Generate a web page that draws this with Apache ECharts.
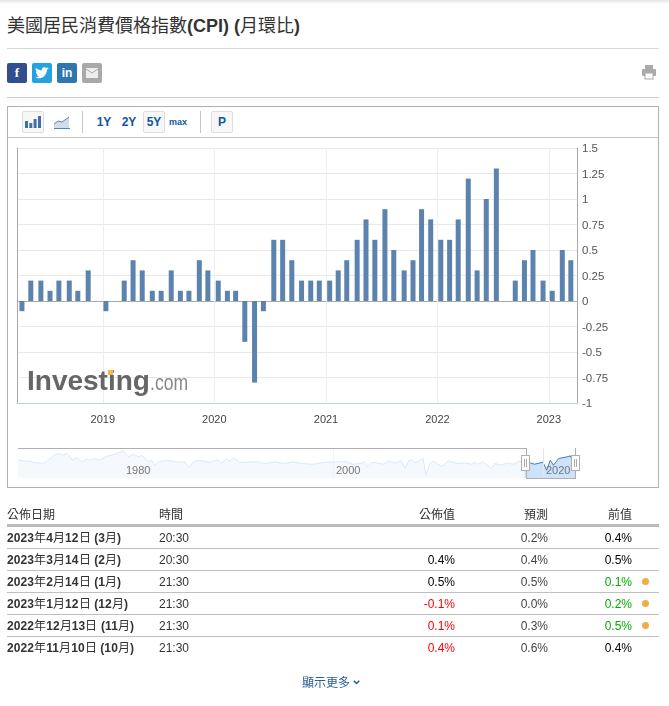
<!DOCTYPE html>
<html><head><meta charset="utf-8">
<script src="https://cdn.jsdelivr.net/npm/echarts@6/dist/echarts.min.js"></script>
<style>
@font-face{font-family:"CJKLight";src:local("Noto Sans CJK TC Regular"),local("NotoSansCJKtc-Regular"),local("Noto Sans CJK TC");font-weight:bold;unicode-range:U+2E80-9FFF,U+F900-FAFF;}
html,body{margin:0;padding:0;background:#fff;}
#root{position:relative;width:669px;height:706px;overflow:hidden;font-family:"CJKLight","Liberation Sans","Noto Sans CJK TC",Arial,sans-serif;color:#333;}
#root>*{position:absolute;}
#chart{left:0;top:0;width:669px;height:706px;}
.abs{position:absolute;box-sizing:border-box;}
.btn{position:absolute;top:111px;height:22px;width:22px;box-sizing:border-box;border:1px solid #ddd;background:#f7f7f7;border-radius:2px;}
.tb{position:absolute;top:113px;height:18px;line-height:18px;text-align:center;color:#1256a0;font-weight:bold;font-size:12px;}
.soc{position:absolute;top:63px;width:20px;height:20px;border-radius:2px;color:#fff;text-align:center;line-height:20px;font-weight:bold;font-size:13px;}
.cell{position:absolute;font-size:12px;line-height:14px;white-space:nowrap;}
.hl{position:absolute;left:7px;width:652px;height:1px;background:#c0c0c0;}
</style></head><body>
<div id="root">
<div class="abs" style="left:0;top:0;width:669px;height:4px;background:linear-gradient(#e4e4e4,#fff);"></div>
<div class="abs" style="left:7px;top:15px;font-size:18px;line-height:22px;font-weight:bold;color:#333;white-space:nowrap;" id="title"></div>
<div class="abs" style="left:7px;top:48px;width:652px;height:1px;background:#d8d8d8;"></div>
<div class="soc" style="left:7px;background:#324e8e;font-family:'Liberation Serif';">f</div>
<div class="soc" style="left:32px;background:#25a3e0;"><svg width="14" height="12" viewBox="0 0 14 12" style="margin-top:4px;display:block;margin-left:3px"><path d="M0 10c4 3 11 1 12-7l2-2-2 .5 1-1.5-2 1c-2-2-5 0-4 2.500C5 3.500 3 2.500 1 1c-1 2 0 3 1 4L1 4.700c0 2 1 3 2 3.300H2c.5 1 1.500 1.500 2.500 1.500C3 10.300 1.500 10.500 0 10z" fill="#fff"/></svg></div>
<div class="soc" style="left:57px;background:#2f77b1;font-size:12px;">in</div>
<div class="soc" style="left:82px;background:#a9a9a9;"><svg width="12" height="10" viewBox="0 0 12 10" style="display:block;margin:5px 0 0 4px"><rect width="12" height="10" fill="#eee"/><path d="M0 1l6 4 6-4" stroke="#a9a9a9" fill="none"/></svg></div>
<svg class="abs" style="left:642px;top:65px" width="14" height="15" viewBox="0 0 14 15"><rect x="3" y="0" width="8" height="4" fill="#aaa"/><rect x="0" y="4" width="14" height="7" rx="1" fill="#aaa"/><rect x="3" y="8" width="8" height="6" fill="#fff" stroke="#aaa"/></svg>
<div class="abs" style="left:7px;top:97px;width:652px;height:1px;background:#ccc;box-shadow:0 3px 5px rgba(0,0,0,.12);"></div>

<div class="abs" style="left:7px;top:106px;width:652px;height:382px;border:1px solid #b0b0b0;"></div>
<div class="abs" style="left:8px;top:137px;width:650px;height:1px;background:#c4c4c4;"></div>
<div class="btn" style="left:22px;"></div>
<svg class="abs" style="left:25px;top:115px" width="16" height="13" viewBox="0 0 16 13"><rect x="0" y="6" width="3" height="7" fill="#3f6fa5"/><rect x="4.300" y="8" width="3" height="5" fill="#3f6fa5"/><rect x="8.600" y="4" width="3" height="9" fill="#3f6fa5"/><rect x="13" y="1" width="3" height="12" fill="#3f6fa5"/></svg>
<svg class="abs" style="left:54px;top:116px" width="16" height="13" viewBox="0 0 16 13"><path d="M0 8L4 5l4 1 7-5v11H0z" fill="#cfdcea"/><path d="M0 8L4 5l4 1 7-5" stroke="#5b83ae" fill="none"/><path d="M0 12.500h16" stroke="#5b83ae"/></svg>
<div class="abs" style="left:82px;top:111px;width:1px;height:22px;background:#c4c4c4;"></div>
<div class="tb" style="left:94px;width:20px;">1Y</div>
<div class="tb" style="left:119px;width:20px;">2Y</div>
<div class="btn" style="left:143px;"></div>
<div class="tb" style="left:144px;width:20px;">5Y</div>
<div class="tb" style="left:168px;width:20px;font-size:9px;">max</div>
<div class="abs" style="left:200px;top:111px;width:1px;height:22px;background:#c4c4c4;"></div>
<div class="btn" style="left:211px;"></div>
<div class="tb" style="left:212px;width:20px;">P</div>

<div id="chart"></div>

<div class="abs" style="left:18px;top:448px;width:509px;height:1px;background:#b0b0b0;"></div>
<div class="abs" style="left:526px;top:448px;width:1px;height:30px;background:#b0b0b0;"></div>
<div class="abs" style="left:575px;top:448px;width:1px;height:30px;background:#b0b0b0;"></div>
<div class="abs" style="left:526px;top:478px;width:50px;height:1px;background:#b0b0b0;"></div>
<div class="abs" style="left:521px;top:455px;width:9px;height:16px;background:#fff;border:1px solid #b0b0b0;"><div class="abs" style="left:2px;top:3px;width:3px;height:8px;border-left:1px solid #aaa;border-right:1px solid #aaa;"></div></div>
<div class="abs" style="left:571px;top:455px;width:9px;height:16px;background:#fff;border:1px solid #b0b0b0;"><div class="abs" style="left:2px;top:3px;width:3px;height:8px;border-left:1px solid #aaa;border-right:1px solid #aaa;"></div></div>

<div id="table" class="abs" style="left:0;top:0;width:669px;height:706px;"></div>
<div class="cell" style="left:302px;top:676px;color:#2a5d96;">顯示更多</div>
<svg class="abs" style="left:353px;top:680px" width="7" height="5" viewBox="0 0 7 5"><path d="M.7 .7L3.500 3.500 6.300 .7" stroke="#2a5d96" stroke-width="1.500" fill="none"/></svg>
</div>
<script>
const chartTitle = "美國居民消費價格指數(CPI) (月環比)";
const cpiDates = ["2018-04-11","2018-05-10","2018-06-12","2018-07-12","2018-08-10","2018-09-13","2018-10-11","2018-11-14","2018-12-12",
 "2019-01-11","2019-02-13","2019-03-12","2019-04-10","2019-05-10","2019-06-12","2019-07-11","2019-08-13","2019-09-12","2019-10-10","2019-11-13","2019-12-11",
 "2020-01-14","2020-02-13","2020-03-11","2020-04-10","2020-05-12","2020-06-10","2020-07-14","2020-08-12","2020-09-11","2020-10-13","2020-11-12","2020-12-10",
 "2021-01-13","2021-02-10","2021-03-10","2021-04-13","2021-05-12","2021-06-10","2021-07-13","2021-08-11","2021-09-14","2021-10-13","2021-11-10","2021-12-10",
 "2022-01-12","2022-02-10","2022-03-10","2022-04-12","2022-05-11","2022-06-10","2022-07-13","2022-08-10","2022-09-13","2022-10-13","2022-11-10","2022-12-13",
 "2023-01-12","2023-02-14","2023-03-14"];
const cpiValues = [-0.1,0.2,0.2,0.1,0.2,0.2,0.1,0.3,0,-0.1,
 0,0.2,0.4,0.3,0.1,0.1,0.3,0.1,0.1,0.4,
 0.3,0.2,0.1,0.1,-0.4,-0.8,-0.1,0.6,0.6,0.4,
 0.2,0.2,0.2,0.2,0.3,0.4,0.6,0.8,0.6,0.9,
 0.5,0.3,0.4,0.9,0.8,0.6,0.6,0.8,1.2,0.3,
 1.0,1.3,0,0.2,0.4,0.5,0.2,0.1,0.5,0.4];
const overviewYears = [1970,1970.5,1971,1971.5,1971.9,1972.35,1972.8,1973.4,1973.9,1974.3,1974.7,1975.2,1975.6,1976.1,1976.5,1976.9,1977.2,1977.8,1978.3,1979.1,1979.6,1980,1980.5,1981,1981.5,1981.8,1982.4,1982.7,1983.05,1983.4,1984.2,1985.1,1985.9,1986.3,1986.7,1987.3,1987.6,1988.2,1988.8,1989.1,1989.4,1989.8,1990.1,1990.6,1991.1,1992.1,1992.9,1993.5,1994.5,1995.3,1996.2,1997,1998.1,1999.2,2000.3,2001.3,2001.9,2002.6,2003,2003.3,2003.7,2004.2,2004.8,2005.3,2005.9,2006.5,2006.85,2007.2,2007.5,2007.8,2008.6,2008.85,2009.2,2009.55,2010,2010.35,2011,2011.8,2012.6,2013.2,2013.5,2013.8,2014.3,2015.1,2015.4,2016.1,2016.5,2017.2,2017.8,2018.25,2018.8,2019.2,2020,2020.35,2020.7,2021,2021.5,2022.3,2022.6,2022.8,2023.1];
const overviewValues = [0.69,0.48,0.43,0.28,0.17,0.02,0.48,1.35,1.61,1.35,1.61,0.58,1,0.28,0.74,0.58,0.84,0.58,1.1,1.46,1.71,2.07,1.1,1.46,1.1,1.36,0.33,0.58,-0.18,0.33,0.58,0.33,0.33,-0.54,0.33,0.58,0.48,0.23,0.58,0.58,0.17,0.79,0.48,0.89,0.28,0.28,0.33,0.07,0.33,0.07,0.33,0.07,-0.03,0.28,0.33,0.38,-0.03,0.07,0.33,-0.44,0.28,0.17,-0.03,0.48,0.17,0.48,-0.7,0.48,0.69,0.17,0.84,-1.72,-0.03,0.48,-0.03,-0.34,0.48,0.07,0.17,-0.03,0.28,-0.03,0.33,-0.7,0.07,-0.18,0.17,-0.03,0.48,-0.03,0.17,-0.03,0.28,-0.95,0.58,-0.18,0.84,1.1,1.25,0.6,0.4];
const overviewTickLabels = [1980,2000,2020];
const selectionStartYear = 2018.25;
const tableHeaders = ["公佈日期","時間","公佈值","預測","前值"];
const releaseDates = ["2023年4月12日 (3月)","2023年3月14日 (2月)","2023年2月14日 (1月)","2023年1月12日 (12月)","2022年12月13日 (11月)","2022年11月10日 (10月)"];
const releaseTimes = ["20:30","20:30","21:30","21:30","21:30","21:30"];
const actuals = ["","0.4%","0.5%","-0.1%","0.1%","0.4%"];
const actualTone = ["","black","black","red","red","red"];
const forecasts = ["0.2%","0.4%","0.5%","0.0%","0.3%","0.6%"];
const previous = ["0.4%","0.5%","0.1%","0.2%","0.5%","0.4%"];
const previousTone = ["black","black","green","green","green","black"];
const revised = [false,false,true,true,true,false];

document.getElementById('title').textContent = chartTitle;
const tones = {black:'#000',red:'#f00',green:'#0a0'};
let html = '';
const cell = (style, text) => `<div class="cell" style="${style}">${text}</div>`;
const hdrY = 508;
html += cell(`left:7px;top:${hdrY}px;`, tableHeaders[0]);
html += cell(`left:159px;top:${hdrY}px;`, tableHeaders[1]);
html += cell(`right:${669-455}px;top:${hdrY}px;`, tableHeaders[2]);
html += cell(`right:${669-548}px;top:${hdrY}px;`, tableHeaders[3]);
html += cell(`right:${669-632}px;top:${hdrY}px;`, tableHeaders[4]);
html += `<div class="hl" style="top:524px;height:3px;background:#bbb;"></div>`;
releaseDates.forEach((d,i)=>{
  const y = 531 + i*22;
  html += cell(`left:7px;top:${y}px;font-weight:bold;color:#333;letter-spacing:.1px;`, d);
  html += cell(`left:159px;top:${y}px;`, releaseTimes[i]);
  if(actuals[i]) html += cell(`right:${669-455}px;top:${y}px;color:${tones[actualTone[i]]};`, actuals[i]);
  html += cell(`right:${669-548}px;top:${y}px;color:#444;`, forecasts[i]);
  html += cell(`right:${669-632}px;top:${y}px;color:${tones[previousTone[i]]};`, previous[i]);
  if(revised[i]) html += `<div class="abs" style="left:642px;top:${y+3}px;width:7px;height:7px;border-radius:50%;background:#eeae45;"></div>`;
  if(i<5) html += `<div class="hl" style="top:${y+17}px;"></div>`;
});
document.getElementById('table').innerHTML = html;

const chart = echarts.init(document.getElementById('chart'), null, {renderer:'canvas', width:669, height:706});
const overview = overviewYears.map((y,i)=>[y,overviewValues[i]]);
const axisFont = {fontFamily:'"Liberation Sans",Arial,sans-serif',fontSize:11};
const gridC = '#e8e8e8';
chart.setOption({
  animation:false,
  grid:[
    {left:17,top:148,width:560,height:255,show:false},
    {left:18,top:448.5,width:557.5,height:29.5,show:false}
  ],
  xAxis:[
    {type:'time',gridIndex:0,min:'2018-04-03',max:'2023-03-26',containShape:false,
     minInterval:365*864e5,maxInterval:366*864e5,
     axisLine:{onZero:false,lineStyle:{color:'#c0d0e0'}},axisTick:{show:false},
     axisLabel:{...axisFont,color:'#444',margin:11,formatter:'{yyyy}',showMinLabel:false,showMaxLabel:false},
     splitLine:{show:true,lineStyle:{color:'#eeeeee'}}},
    {type:'value',gridIndex:1,min:1970,max:2023.1,interval:10,
     axisLine:{show:false},axisTick:{show:false},z:6,
     axisLabel:{...axisFont,color:'#777',inside:true,margin:2,align:'left',padding:[0,0,0,3],showMaxLabel:false,
       formatter:v=>overviewTickLabels.includes(v)?String(v):''},
     splitLine:{show:true,lineStyle:{color:['transparent','transparent','transparent','#f2f2f2','transparent','#e6e6e6','transparent']}}}
  ],
  yAxis:[
    {type:'value',gridIndex:0,position:'right',min:-1,max:1.5,interval:0.25,
     axisLine:{show:true,lineStyle:{color:'#aaaaaa'}},axisTick:{show:false},
     axisLabel:{...axisFont,color:'#555',margin:5,fontSize:11.500,verticalAlign:'top',lineHeight:2},
     splitLine:{show:true,lineStyle:{color:[gridC,gridC,gridC,gridC,'#aaaaaa',gridC,gridC,gridC,gridC,gridC,gridC]}}},
    {type:'value',gridIndex:0,position:'left',min:-1,max:1.5,interval:0.25,
     axisLine:{show:true,lineStyle:{color:'#aaaaaa'}},axisTick:{show:false},axisLabel:{show:false},splitLine:{show:false}},
    {type:'value',gridIndex:1,min:-2.14,max:2.38,show:false,splitLine:{show:false}}
  ],
  series:[
    {type:'bar',xAxisIndex:0,yAxisIndex:0,barWidth:5,itemStyle:{color:'#5b83ae'},
     data:cpiDates.map((d,i)=>[d,cpiValues[i]])},
    {type:'line',xAxisIndex:1,yAxisIndex:2,symbol:'none',silent:true,
     lineStyle:{color:'#dbe8f6',width:1},areaStyle:{color:'#f5f9fe',opacity:1,origin:'start'},
     data:overview},
    {type:'line',xAxisIndex:1,yAxisIndex:2,symbol:'none',silent:true,
     lineStyle:{color:'#3f80c6',width:1},areaStyle:{color:'#cde2fb',opacity:1,origin:'start'},
     data:overview.filter(p=>p[0]>=selectionStartYear)}
  ],
  graphic:[
    {type:'text',left:27,top:368,z:10,style:{text:'Investing',fontFamily:'"Liberation Sans",Arial,sans-serif',fontWeight:'bold',fontSize:28,fill:'#666'}},
    {type:'rect',left:108,top:370,z:11,shape:{width:5,height:5},style:{fill:'#f5b942'}},
    {type:'text',x:150,y:373,z:10,scaleX:0.8,style:{text:'.com',fontFamily:'"Liberation Sans",Arial,sans-serif',fontSize:22,fill:'#888'}}
  ]
});
</script>
</body></html>
